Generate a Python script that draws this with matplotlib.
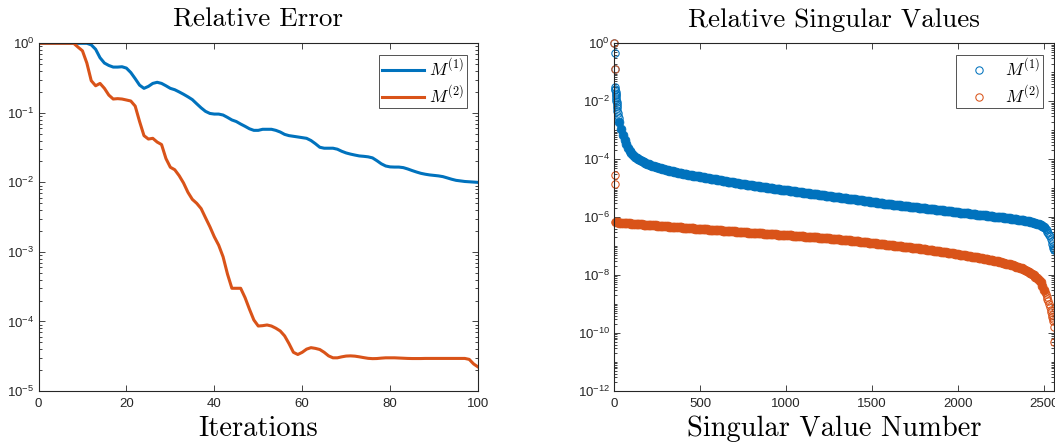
import numpy as np
import matplotlib
matplotlib.use("Agg")
import matplotlib.pyplot as plt
from matplotlib.ticker import LogLocator, FixedLocator, NullFormatter, LogFormatterSciNotation

plt.rcParams['font.family'] = ['Liberation Sans', 'DejaVu Sans']
plt.rcParams['mathtext.fontset'] = 'custom'
plt.rcParams['mathtext.rm'] = 'Liberation Sans'
plt.rcParams['mathtext.it'] = 'Liberation Sans:italic'
plt.rcParams['mathtext.bf'] = 'Liberation Sans:bold'

BLUE = '#0072BD'
ORANGE = '#D95319'
AXC = '#262626'

# ---------------- data: relative error ----------------
iterations = np.arange(0, 101)
error_M1 = [1.0] * 12 + [
    0.95, 0.82, 0.62, 0.52, 0.48, 0.455, 0.455, 0.46, 0.44,
    0.38, 0.31, 0.25, 0.225, 0.24, 0.265, 0.275, 0.265, 0.245, 0.225,
    0.215, 0.2, 0.185, 0.17, 0.155, 0.135, 0.118, 0.105, 0.098, 0.096,
    0.096, 0.093, 0.086, 0.079, 0.075, 0.069, 0.064, 0.059, 0.056, 0.056,
    0.058, 0.058, 0.058, 0.056, 0.053, 0.049, 0.047, 0.046, 0.045, 0.044,
    0.043, 0.040, 0.036, 0.032, 0.031, 0.031, 0.031, 0.030, 0.028, 0.0265,
    0.0255, 0.0247, 0.024, 0.0237, 0.0233, 0.0225, 0.0205, 0.0185, 0.0172, 0.0167,
    0.0166, 0.0166, 0.0163, 0.0156, 0.0148, 0.0141, 0.0135, 0.0131, 0.0128, 0.0126,
    0.0124, 0.0121, 0.0116, 0.0111, 0.0107, 0.0105, 0.0103, 0.0102, 0.0101, 0.0100]
error_M2 = [1.0] * 9 + [
    0.88, 0.78, 0.52, 0.29, 0.245, 0.265, 0.225, 0.18, 0.158, 0.16,
    0.158, 0.153, 0.148, 0.125, 0.075, 0.047, 0.042, 0.043, 0.038, 0.035,
    0.022, 0.0165, 0.0152, 0.0125, 0.0098, 0.0072, 0.0057, 0.0050, 0.0042, 0.0031,
    0.0023, 0.00165, 0.00125, 0.00085, 0.00048, 0.0003, 0.0003, 0.0003, 0.00022, 0.00015,
    0.000105, 8.6e-5, 8.7e-5, 8.9e-5, 8.6e-5, 8.0e-5, 7.3e-5, 6.2e-5, 4.8e-5, 3.6e-5,
    3.35e-5, 3.6e-5, 4.0e-5, 4.2e-5, 4.1e-5, 3.95e-5, 3.6e-5, 3.2e-5, 3.0e-5, 3.0e-5,
    3.1e-5, 3.18e-5, 3.2e-5, 3.17e-5, 3.1e-5, 3.02e-5, 2.95e-5, 2.92e-5, 2.93e-5, 2.97e-5,
    3.0e-5, 3.0e-5, 3.0e-5, 2.98e-5, 2.96e-5, 2.94e-5, 2.93e-5, 2.93e-5, 2.93e-5, 2.94e-5,
    2.94e-5, 2.94e-5, 2.94e-5, 2.94e-5, 2.94e-5, 2.94e-5, 2.94e-5, 2.94e-5, 2.94e-5, 2.85e-5,
    2.45e-5, 2.22e-5]

# ---------------- data: relative singular values (log10) ----------------
sv1_head_idx = [1, 2, 3, 4, 5, 6, 7, 8, 9, 10, 11, 12, 13, 14, 15, 16, 18, 20, 22, 25]
sv1_head_log = [0, -0.35, -0.90, -1.50, -1.56, -1.62, -1.68, -1.74, -1.80, -1.86,
                -1.92, -1.98, -2.04, -2.10, -2.16, -2.22, -2.32, -2.42, -2.50, -2.57]
sv1_body_idx = list(range(30, 2501, 10))
sv1_body_log = [
    -2.72, -2.97, -3.17, -3.34, -3.48, -3.60, -3.70, -3.78,
    -3.85, -3.91, -3.96, -4.00, -4.04, -4.07, -4.10, -4.13, -4.16, -4.18,
    -4.20, -4.22, -4.24, -4.26, -4.28, -4.30, -4.32, -4.335, -4.35, -4.365,
    -4.38, -4.39, -4.41, -4.42, -4.44, -4.45, -4.47, -4.48, -4.49, -4.50,
    -4.51, -4.52, -4.53, -4.54, -4.55, -4.565, -4.575, -4.585, -4.595, -4.605,
    -4.615, -4.625, -4.635, -4.645, -4.66, -4.67, -4.68, -4.69, -4.70, -4.71,
    -4.72, -4.73, -4.74, -4.75, -4.76, -4.77, -4.78, -4.79, -4.80, -4.81,
    -4.82, -4.83, -4.84, -4.85, -4.855, -4.865, -4.875, -4.885, -4.89, -4.90,
    -4.91, -4.92, -4.93, -4.935, -4.945, -4.955, -4.965, -4.975, -4.98, -4.99,
    -5.00, -5.01, -5.015, -5.025, -5.03, -5.04, -5.05, -5.055, -5.06, -5.07,
    -5.08, -5.09, -5.095, -5.105, -5.11, -5.12, -5.13, -5.135, -5.14, -5.15,
    -5.16, -5.17, -5.175, -5.185, -5.19, -5.20, -5.21, -5.215, -5.22, -5.23,
    -5.24, -5.25, -5.255, -5.265, -5.27, -5.28, -5.29, -5.295, -5.30, -5.31,
    -5.32, -5.33, -5.335, -5.345, -5.35, -5.36, -5.37, -5.375, -5.38, -5.39,
    -5.40, -5.41, -5.415, -5.425, -5.43, -5.44, -5.45, -5.455, -5.46, -5.47,
    -5.48, -5.49, -5.495, -5.505, -5.51, -5.52, -5.53, -5.535, -5.54, -5.55,
    -5.56, -5.565, -5.57, -5.58, -5.585, -5.59, -5.60, -5.605, -5.61, -5.62,
    -5.63, -5.635, -5.64, -5.65, -5.655, -5.66, -5.67, -5.675, -5.68, -5.69,
    -5.70, -5.705, -5.71, -5.72, -5.725, -5.73, -5.74, -5.745, -5.75, -5.76,
    -5.77, -5.775, -5.78, -5.79, -5.795, -5.80, -5.81, -5.815, -5.82, -5.83,
    -5.84, -5.845, -5.85, -5.86, -5.865, -5.87, -5.88, -5.885, -5.89, -5.90,
    -5.91, -5.915, -5.92, -5.93, -5.935, -5.94, -5.95, -5.955, -5.96, -5.97,
    -5.98, -5.985, -5.99, -6.00, -6.005, -6.01, -6.02, -6.025, -6.03, -6.04,
    -6.05, -6.06, -6.07, -6.08, -6.085, -6.09, -6.10, -6.11, -6.12, -6.13,
    -6.14, -6.155, -6.17, -6.19, -6.21, -6.225, -6.245, -6.27, -6.30, -6.34]
sv1_tail_idx = [2505, 2510, 2515, 2520, 2525, 2530, 2535, 2540, 2544, 2548, 2551, 2554, 2557, 2560]
sv1_tail_log = [-6.38, -6.42, -6.46, -6.50, -6.55, -6.60, -6.66, -6.74, -6.82, -6.92,
                -7.00, -7.06, -7.10, -7.13]

sv2_head_idx = [1, 2, 3, 4, 5]
sv2_head_log = [0, -0.87, -4.55, -4.86, -6.17]
sv2_body_idx = list(range(10, 2501, 10))
sv2_body_log = [
    -6.175, -6.18, -6.185, -6.19, -6.195, -6.20, -6.205, -6.21, -6.215, -6.22,
    -6.225, -6.23, -6.235, -6.24, -6.245, -6.25, -6.255, -6.26, -6.265, -6.27,
    -6.275, -6.28, -6.284, -6.288, -6.292, -6.297, -6.302, -6.306, -6.31, -6.315,
    -6.32, -6.324, -6.328, -6.333, -6.338, -6.342, -6.346, -6.351, -6.355, -6.36,
    -6.365, -6.37, -6.374, -6.378, -6.383, -6.388, -6.392, -6.396, -6.40, -6.405,
    -6.41, -6.414, -6.418, -6.423, -6.428, -6.432, -6.436, -6.441, -6.445, -6.45,
    -6.455, -6.46, -6.464, -6.468, -6.473, -6.478, -6.482, -6.486, -6.49, -6.495,
    -6.50, -6.504, -6.508, -6.513, -6.518, -6.522, -6.526, -6.531, -6.535, -6.54,
    -6.544, -6.548, -6.552, -6.556, -6.56, -6.564, -6.568, -6.572, -6.576, -6.58,
    -6.584, -6.588, -6.592, -6.596, -6.60, -6.604, -6.608, -6.612, -6.616, -6.62,
    -6.624, -6.629, -6.633, -6.638, -6.642, -6.647, -6.651, -6.656, -6.66, -6.665,
    -6.67, -6.674, -6.678, -6.683, -6.688, -6.692, -6.696, -6.701, -6.705, -6.71,
    -6.715, -6.72, -6.725, -6.73, -6.735, -6.74, -6.745, -6.75, -6.755, -6.76,
    -6.766, -6.772, -6.778, -6.784, -6.79, -6.796, -6.802, -6.808, -6.814, -6.82,
    -6.827, -6.834, -6.841, -6.848, -6.855, -6.862, -6.869, -6.876, -6.883, -6.89,
    -6.897, -6.904, -6.911, -6.918, -6.925, -6.932, -6.939, -6.946, -6.953, -6.96,
    -6.967, -6.974, -6.981, -6.988, -6.995, -7.002, -7.009, -7.016, -7.023, -7.03,
    -7.037, -7.044, -7.051, -7.058, -7.065, -7.072, -7.079, -7.086, -7.093, -7.10,
    -7.109, -7.118, -7.127, -7.136, -7.145, -7.154, -7.163, -7.172, -7.181, -7.19,
    -7.199, -7.208, -7.217, -7.226, -7.235, -7.244, -7.253, -7.262, -7.271, -7.28,
    -7.29, -7.30, -7.31, -7.32, -7.33, -7.34, -7.35, -7.36, -7.37, -7.38,
    -7.391, -7.402, -7.413, -7.424, -7.435, -7.446, -7.457, -7.468, -7.479, -7.49,
    -7.503, -7.516, -7.53, -7.544, -7.558, -7.572, -7.586, -7.60, -7.615, -7.63,
    -7.648, -7.666, -7.685, -7.705, -7.725, -7.745, -7.765, -7.785, -7.81, -7.85,
    -7.88, -7.92, -7.96, -8.00, -8.05, -8.10, -8.17, -8.25, -8.36, -8.50]
sv2_tail_idx = [2505, 2510, 2515, 2520, 2525, 2530, 2535, 2540, 2543, 2546, 2549, 2552, 2555, 2558, 2560]
sv2_tail_log = [-8.58, -8.66, -8.74, -8.82, -8.91, -9.00, -9.10, -9.20, -9.28, -9.36,
                -9.44, -9.50, -9.58, -9.80, -10.30]

labels = [r'$M^{(1)}$', r'$M^{(2)}$']

# ---------------- figure ----------------
W, H = 1055, 447
fig = plt.figure(figsize=(W / 100, H / 100), dpi=100)
axL = fig.add_axes([38.5 / W, (H - 391) / H, 439.5 / W, 347.7 / H])
axR = fig.add_axes([614.3 / W, (H - 391) / H, 440.0 / W, 347.7 / H])

TITLE_FS = 19.5
LABEL_FS = 20.5


def style(ax):
    for s in ax.spines.values():
        s.set_color(AXC)
        s.set_linewidth(0.8)
    ax.tick_params(which='both', direction='in', top=True, right=True,
                   colors=AXC, labelsize=9.5, width=0.6)
    ax.tick_params(which='major', length=4.5)
    ax.tick_params(which='minor', length=2.5)
    ax.tick_params(axis='x', pad=5)
    ax.tick_params(axis='y', pad=3)


# Left
axL.plot(iterations, error_M1, color=BLUE, lw=2.2, label=labels[0])
axL.plot(iterations, error_M2, color=ORANGE, lw=2.2, label=labels[1])
axL.set_yscale('log')
axL.set_xlim(0, 100)
axL.set_ylim(1e-5, 1)
axL.set_xticks([0, 20, 40, 60, 80, 100])
axL.yaxis.set_major_locator(LogLocator(base=10, numticks=20))
axL.yaxis.set_minor_locator(LogLocator(base=10, subs=np.arange(2, 10), numticks=50))
axL.yaxis.set_minor_formatter(NullFormatter())
style(axL)
axL.set_title('Relative Error', fontfamily='cmr10', fontsize=TITLE_FS, pad=12)
axL.set_xlabel('Iterations', fontfamily='cmr10', fontsize=LABEL_FS, labelpad=4)
legL = axL.legend(loc='upper right', fontsize=12.5, frameon=True, fancybox=False,
                  edgecolor=AXC, borderaxespad=0.65, handlelength=2.4,
                  handletextpad=0.3, labelspacing=0.3, borderpad=0.15)
legL.get_frame().set_linewidth(0.7)
for t in legL.get_texts():
    t.set_math_fontfamily('cm')

# Right: dense body of overlapping circles reads as a solid band
series = [
    (sv1_head_idx, sv1_head_log, sv1_body_idx, sv1_body_log, sv1_tail_idx, sv1_tail_log, BLUE, labels[0]),
    (sv2_head_idx, sv2_head_log, sv2_body_idx, sv2_body_log, sv2_tail_idx, sv2_tail_log, ORANGE, labels[1]),
]
for hi, hl, bi, bl, ti, tl, col, lab in series:
    axR.plot(bi, 10.0 ** np.array(bl), ls='none', marker='o', mfc=col, mec=col,
             ms=6.4, mew=0.5, clip_on=False)
    axR.plot(hi + ti, 10.0 ** np.array(hl + tl), ls='none', marker='o', mfc='none', mec=col,
             ms=5.3, mew=0.75, clip_on=False, label=lab)
axR.set_yscale('log')
axR.set_xlim(0, 2560)
axR.set_ylim(1e-12, 1)
axR.set_xticks([0, 500, 1000, 1500, 2000, 2500])
axR.yaxis.set_major_locator(FixedLocator([1e-12, 1e-10, 1e-8, 1e-6, 1e-4, 1e-2, 1e0]))
axR.yaxis.set_major_formatter(LogFormatterSciNotation())
axR.yaxis.set_minor_locator(LogLocator(base=10, subs=np.arange(1, 10), numticks=100))
axR.yaxis.set_minor_formatter(NullFormatter())
style(axR)
axR.set_title('Relative Singular Values', fontfamily='cmr10', fontsize=TITLE_FS, pad=12)
axR.set_xlabel('Singular Value Number', fontfamily='cmr10', fontsize=LABEL_FS, labelpad=4)
legR = axR.legend(loc='upper right', fontsize=12.5, frameon=True, fancybox=False,
                  edgecolor=AXC, borderaxespad=0.65, handlelength=2.4,
                  handletextpad=0.3, labelspacing=0.3, borderpad=0.15, numpoints=1)
legR.get_frame().set_linewidth(0.7)
for t in legR.get_texts():
    t.set_math_fontfamily('cm')

fig.savefig('out.png', dpi=100)
